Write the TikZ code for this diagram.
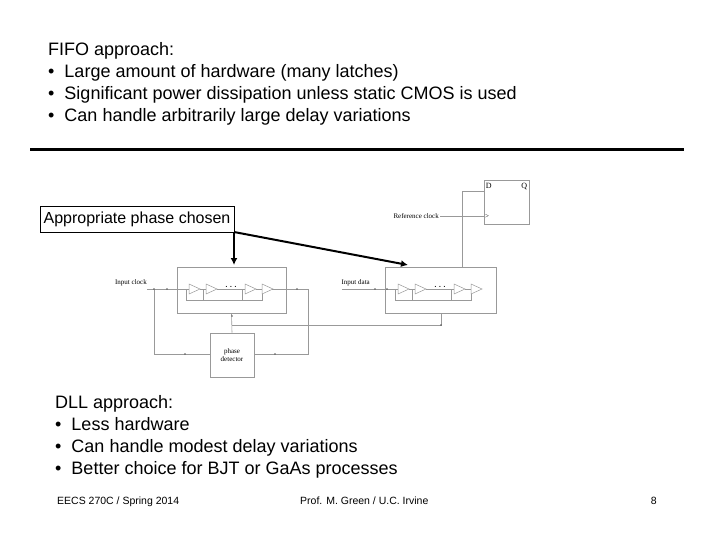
\documentclass[tikz,border=0pt]{standalone}
\usepackage{fontspec}
\setmainfont{Liberation Sans}
\newfontfamily\serifx{Liberation Serif}
\usetikzlibrary{arrows.meta}
\begin{document}
\begin{tikzpicture}[x=1pt,y=-1pt,
  wire/.style={draw=gray!80,line width=0.6pt},
  gbox/.style={draw=gray!80,line width=0.8pt},
  tiny/.style={font=\serifx\fontsize{7}{8}\selectfont,inner sep=1pt},
  body/.style={font=\fontsize{18}{22}\selectfont,align=left,anchor=north west,inner sep=0pt},
  foot/.style={font=\fontsize{10.5}{12}\selectfont,inner sep=0pt},
  arr/.style={line width=2pt,-{Latex[length=7pt,width=7pt]}},
  buf/.style={draw=gray!80,line width=0.5pt}]
\useasboundingbox (0,0) rectangle (720,540);
\node[body] (t1) at (48,42) {FIFO approach:\\
\textbullet\ \ Large amount of hardware (many latches)\\
\textbullet\ \ Significant power dissipation unless static CMOS is used\\
\textbullet\ \ Can handle arbitrarily large delay variations};
\coordinate (rl) at (30,150); \coordinate (rr) at (684,150);
\draw[line width=3pt] (rl) -- (rr);
% boxes
\node[gbox,minimum width=109,minimum height=46,inner sep=0] (b1) at (231.5,290) {};
\node[gbox,minimum width=111,minimum height=46,inner sep=0] (b2) at (440.5,290) {};
\node[gbox,minimum width=45,minimum height=44,inner sep=0] (ff) at (506.5,202) {};
\node[gbox,minimum width=44,minimum height=44,inner sep=0,tiny,align=center] (pd) at (232,355) {phase\\detector};
\node[tiny,anchor=north west,font=\serifx\fontsize{8}{9}\selectfont] at ([xshift=1,yshift=-2]ff.north west) {D};
\node[tiny,anchor=north east,font=\serifx\fontsize{8}{9}\selectfont] at ([xshift=-1,yshift=-2]ff.north east) {Q};
\node[tiny,anchor=west] at (484,216) {>};
\node[tiny,anchor=east] (rc) at (440,216) {Reference clock};
\node[tiny,anchor=east] (ic) at (148,283) {Input clock};
\node[tiny,anchor=east] (id) at (371,283) {Input data};
% buffers
\foreach \bx/\xs in {b1/189,b2/398}{
  \foreach \d in {0,17,56,73}{
    \draw[buf] (\xs+\d,284) -- (\xs+\d+11,289) -- (\xs+\d,294) -- cycle;
  }
  \draw[wire] (\xs+17+11,289) -- (\xs+56,289);
  \draw[wire] (\xs-3,289) -- (\xs-3,300) -- (\xs+73,300) -- (\xs+73,294);
  \draw[wire] (\xs+14,289) -- (\xs+14,300);
  \draw[wire] (\xs+53,289) -- (\xs+53,300);
  \foreach \x in {0,17,56}{\draw[wire] (\xs+\x+11,289) -- (\xs+\x+17,289);}
  \node[font=\fontsize{10}{10}\selectfont,inner sep=0] at (\xs+42,287) {.\,.\,.};
}
% wires
\coordinate (lv) at (154,289); \coordinate (rv) at (308,289);
\draw[wire] (147,289) -- (189,289);
\draw[wire] (272,289) -- (rv) -- (308,354) -- (254,354);
\draw[wire] (lv) -- (154,354) -- (210,354);
\draw[wire] (342,289) -- (398,289);
\draw[wire] (pd.north) -- (b1.south);
\draw[wire] (232,325) -- (441,325) -- (441,313);
\draw[wire] (462,267) -- (462,191) -- (484,191);
\draw[wire] (rc.east) -- (484,216);
\foreach \p in {(154,289),(167,289),(297,289),(232,316),(441,325),(185,354),(275,354),(375,289),(387,289)}
  \fill[gray!70!black] \p circle (0.8);
% label
\node[draw,line width=0.8pt,font=\fontsize{16}{18}\selectfont,minimum width=194,minimum height=26,inner sep=0] (ap) at (137,219) {Appropriate phase chosen};
\coordinate (ac) at (234,232);
\draw[arr] (ac) -- (234,265);
\draw[arr] (ac) -- (408,265);
\node[body] (t2) at (55,395) {DLL approach:\\
\textbullet\ \ Less hardware\\
\textbullet\ \ Can handle modest delay variations\\
\textbullet\ \ Better choice for BJT or GaAs processes};
\node[foot,anchor=base west] (f1) at (57,504) {EECS 270C / Spring 2014};
\node[foot,anchor=base west] (f2) at (300,504) {Prof. M. Green / U.C. Irvine};
\node[foot,anchor=base east] (f3) at (657,504) {8};
\end{tikzpicture}
\end{document}
